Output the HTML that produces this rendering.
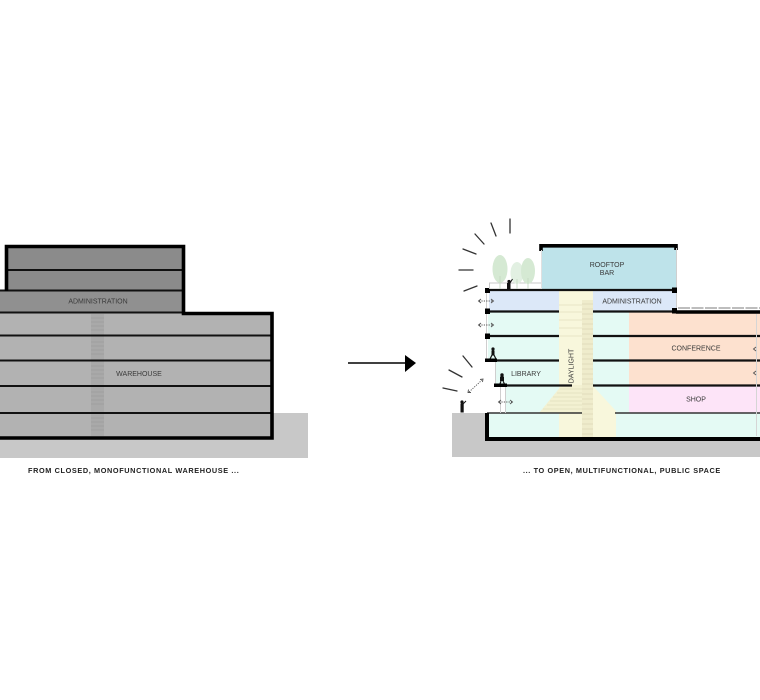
<!DOCTYPE html>
<html><head><meta charset="utf-8"><style>
html,body{margin:0;padding:0;background:#fff;}
svg{display:block;}
text{font-family:"Liberation Sans",sans-serif;}
</style></head><body>
<svg width="760" height="700" viewBox="0 0 760 700" xmlns="http://www.w3.org/2000/svg">
<rect width="760" height="700" fill="#fff"/>

<!-- LEFT BUILDING -->
<rect x="0" y="413" width="308" height="45" fill="#c8c8c8"/>
<rect x="0" y="313" width="272" height="125" fill="#b2b2b2"/>
<rect x="6" y="246" width="178" height="45" fill="#8b8b8b"/>
<rect x="0" y="290" width="184" height="23" fill="#909090"/>
<rect x="91" y="314" width="13" height="122" fill="#a9a9a9"/>
<g stroke="#999" stroke-width="0.6">
<line x1="91" y1="318" x2="104" y2="318"/><line x1="91" y1="322" x2="104" y2="322"/><line x1="91" y1="326" x2="104" y2="326"/><line x1="91" y1="330" x2="104" y2="330"/>
<line x1="91" y1="342" x2="104" y2="342"/><line x1="91" y1="346" x2="104" y2="346"/><line x1="91" y1="350" x2="104" y2="350"/><line x1="91" y1="354" x2="104" y2="354"/>
<line x1="91" y1="366" x2="104" y2="366"/><line x1="91" y1="370" x2="104" y2="370"/><line x1="91" y1="374" x2="104" y2="374"/><line x1="91" y1="378" x2="104" y2="378"/>
<line x1="91" y1="392" x2="104" y2="392"/><line x1="91" y1="396" x2="104" y2="396"/><line x1="91" y1="400" x2="104" y2="400"/><line x1="91" y1="404" x2="104" y2="404"/>
<line x1="91" y1="418" x2="104" y2="418"/><line x1="91" y1="422" x2="104" y2="422"/><line x1="91" y1="426" x2="104" y2="426"/><line x1="91" y1="430" x2="104" y2="430"/>
</g>
<g stroke="#111" stroke-width="2">
<line x1="7" y1="270" x2="183" y2="270"/>
<line x1="0" y1="290.5" x2="183" y2="290.5"/>
<line x1="0" y1="312.5" x2="183" y2="312.5"/>
<line x1="0" y1="335.5" x2="271" y2="335.5"/>
<line x1="0" y1="360.5" x2="271" y2="360.5"/>
<line x1="0" y1="386" x2="271" y2="386"/>
<line x1="0" y1="413" x2="271" y2="413"/>
</g>
<path d="M6.5 291 V246.5 H183.5 V313.5 H272 V438 H0" fill="none" stroke="#000" stroke-width="3.6"/>
<text x="98" y="303.5" font-size="7" fill="#3a3a3a" text-anchor="middle">ADMINISTRATION</text>
<text x="139" y="376" font-size="7" fill="#3a3a3a" text-anchor="middle">WAREHOUSE</text>
<text x="28" y="473" font-size="7.3" font-weight="bold" fill="#222" letter-spacing="0.62">FROM CLOSED, MONOFUNCTIONAL WAREHOUSE ...</text>

<!-- ARROW -->
<line x1="348" y1="363" x2="406" y2="363" stroke="#000" stroke-width="1.6"/>
<polygon points="405,355 416,363 405,372" fill="#000"/>

<!-- RIGHT BUILDING -->
<rect x="452" y="413" width="308" height="44" fill="#c8c8c8"/>
<!-- basement -->
<rect x="487" y="413" width="273" height="25" fill="#e4faf4"/>
<!-- ground floor -->
<rect x="505" y="386" width="124" height="27" fill="#e4faf4"/>
<rect x="629" y="386" width="131" height="27" fill="#fde4f8"/>
<!-- library floor -->
<rect x="495" y="361" width="134" height="25" fill="#e4faf4"/>
<rect x="629" y="312" width="131" height="74" fill="#fde1cf"/>
<rect x="488" y="312" width="141" height="49" fill="#e4faf4"/>
<!-- admin -->
<rect x="489" y="291" width="187" height="21" fill="#dce8f8"/>
<!-- rooftop bar -->
<rect x="541" y="247" width="135" height="43" fill="#bee3ea"/>

<!-- daylight column -->
<rect x="559" y="291" width="34" height="147" fill="#f8f7dc"/>
<polygon points="562,385 582,385 582,413 539,413" fill="#f3f1d2"/>
<polygon points="593,386 616,411 616,437 593,437" fill="#f8f7dc"/>
<rect x="582" y="300" width="11" height="137" fill="#efeccc"/>
<g stroke="#d8d4b0" stroke-width="0.6">
<line x1="582" y1="304" x2="593" y2="304"/><line x1="582" y1="309" x2="593" y2="309"/><line x1="582" y1="314" x2="593" y2="314"/><line x1="582" y1="319" x2="593" y2="319"/><line x1="582" y1="324" x2="593" y2="324"/><line x1="582" y1="329" x2="593" y2="329"/><line x1="582" y1="334" x2="593" y2="334"/><line x1="582" y1="339" x2="593" y2="339"/><line x1="582" y1="344" x2="593" y2="344"/><line x1="582" y1="349" x2="593" y2="349"/><line x1="582" y1="354" x2="593" y2="354"/><line x1="582" y1="359" x2="593" y2="359"/><line x1="582" y1="364" x2="593" y2="364"/><line x1="582" y1="369" x2="593" y2="369"/><line x1="582" y1="374" x2="593" y2="374"/><line x1="582" y1="379" x2="593" y2="379"/><line x1="582" y1="384" x2="593" y2="384"/><line x1="582" y1="389" x2="593" y2="389"/><line x1="582" y1="394" x2="593" y2="394"/><line x1="582" y1="399" x2="593" y2="399"/><line x1="582" y1="404" x2="593" y2="404"/><line x1="582" y1="409" x2="593" y2="409"/><line x1="582" y1="414" x2="593" y2="414"/><line x1="582" y1="419" x2="593" y2="419"/><line x1="582" y1="424" x2="593" y2="424"/><line x1="582" y1="429" x2="593" y2="429"/><line x1="582" y1="434" x2="593" y2="434"/>
<line x1="559" y1="305" x2="582" y2="305"/><line x1="559" y1="312" x2="582" y2="312"/><line x1="559" y1="320" x2="582" y2="320"/><line x1="559" y1="328" x2="582" y2="328"/><line x1="559" y1="336" x2="582" y2="336"/>
<line x1="560" y1="389" x2="582" y2="389"/><line x1="557" y1="393" x2="582" y2="393"/><line x1="553" y1="397" x2="582" y2="397"/><line x1="550" y1="401" x2="582" y2="401"/><line x1="547" y1="405" x2="582" y2="405"/><line x1="543" y1="409" x2="582" y2="409"/>
</g>

<!-- floor lines -->
<g stroke="#111" stroke-width="2.2">
<line x1="486" y1="290" x2="676" y2="290"/>
<line x1="486" y1="311.5" x2="559" y2="311.5"/>
<line x1="593" y1="311.5" x2="676" y2="311.5"/>
<line x1="486" y1="336" x2="559" y2="336"/>
<line x1="593" y1="336" x2="760" y2="336"/>
<line x1="486" y1="360.5" x2="559" y2="360.5"/>
<line x1="593" y1="360.5" x2="760" y2="360.5"/>
<line x1="494" y1="385.5" x2="572" y2="385.5"/>
<line x1="593" y1="385.5" x2="760" y2="385.5"/>
</g>
<line x1="487" y1="413" x2="582" y2="413" stroke="#333" stroke-width="1.4"/>
<line x1="615" y1="413" x2="760" y2="413" stroke="#333" stroke-width="1.6"/>
<line x1="676" y1="312" x2="760" y2="312" stroke="#000" stroke-width="3.4"/>
<!-- railing lower roof -->
<line x1="678" y1="308" x2="760" y2="308" stroke="#bdbdbd" stroke-width="2" stroke-dasharray="12,1.5"/>
<!-- rooftop box -->
<path d="M541 251 V245.8 H676 V250" fill="none" stroke="#000" stroke-width="3.6"/>
<line x1="676.5" y1="248" x2="676.5" y2="310" stroke="#cfcfcf" stroke-width="1"/>
<line x1="541.5" y1="250" x2="541.5" y2="289" stroke="#e0e0e0" stroke-width="1"/>
<!-- basement border -->
<path d="M487 413 V439 H760" fill="none" stroke="#000" stroke-width="4"/>
<!-- facade thin lines -->
<g stroke="#cfcfcf" stroke-width="1">
<line x1="486.5" y1="293" x2="486.5" y2="359"/>
<line x1="495.5" y1="362" x2="495.5" y2="384"/>
<line x1="500.5" y1="387" x2="500.5" y2="413"/>
<line x1="505.5" y1="387" x2="505.5" y2="413"/>
</g>
<line x1="756.5" y1="314" x2="756.5" y2="436" stroke="#d5d5d5" stroke-width="1"/>
<!-- column caps -->
<g fill="#000">
<rect x="485" y="288" width="5" height="5"/>
<rect x="485" y="308.5" width="5" height="5.5"/>
<rect x="485" y="333.5" width="5" height="5.5"/>
<rect x="485" y="358.5" width="12" height="3.5"/>
<rect x="494" y="383.5" width="13" height="3.5"/>
<rect x="672" y="287.5" width="5" height="5.5"/>
<rect x="672" y="308" width="5" height="5.5"/>
</g>

<!-- roof terrace: railing, trees -->
<line x1="489" y1="283" x2="541" y2="283" stroke="#c8c8c8" stroke-width="1"/>
<line x1="489.5" y1="283" x2="489.5" y2="289" stroke="#c8c8c8" stroke-width="1"/>
<ellipse cx="517" cy="273" rx="6.5" ry="11" fill="#e2f0e2"/>
<ellipse cx="500" cy="269" rx="7.5" ry="14" fill="#d5e9d3"/>
<ellipse cx="528" cy="271" rx="7" ry="13" fill="#d5e9d3"/>
<g stroke="#c2d6c0" stroke-width="0.8">
<line x1="500" y1="276" x2="500" y2="289"/><line x1="517" y1="279" x2="517" y2="289"/><line x1="528" y1="278" x2="528" y2="289"/>
</g>

<!-- people -->
<g fill="#111">
<circle cx="509" cy="281.5" r="1.6"/><rect x="507" y="283" width="3.5" height="6.5"/><line x1="510" y1="283" x2="512.5" y2="279" stroke="#111" stroke-width="1"/>
<circle cx="493" cy="349" r="1.6"/><rect x="491.5" y="350.5" width="3" height="5"/><line x1="492" y1="355" x2="490" y2="359" stroke="#111" stroke-width="1.2"/><line x1="494" y1="355" x2="496" y2="359" stroke="#111" stroke-width="1.2"/>
<circle cx="502" cy="375" r="1.7"/><rect x="500" y="376.5" width="4" height="4.5"/><line x1="501" y1="381" x2="500" y2="384" stroke="#111" stroke-width="1.2"/><line x1="503" y1="381" x2="504.5" y2="384" stroke="#111" stroke-width="1.2"/>
<circle cx="462" cy="402" r="1.6"/><rect x="460.5" y="403.5" width="3.2" height="9"/><line x1="463" y1="404" x2="466" y2="401" stroke="#111" stroke-width="1"/>
</g>

<!-- dotted double arrows -->
<g stroke="#555" stroke-width="0.9" fill="none">
<line x1="479" y1="301" x2="493" y2="301" stroke-dasharray="1.2,1.2"/>
<path d="M481 299 L478.5 301 L481 303 M491 299 L493.5 301 L491 303"/>
<line x1="479" y1="325" x2="493" y2="325" stroke-dasharray="1.2,1.2"/>
<path d="M481 323 L478.5 325 L481 327 M491 323 L493.5 325 L491 327"/>
<line x1="499" y1="402" x2="512" y2="402" stroke-dasharray="1.2,1.2"/>
<path d="M501 400 L498.5 402 L501 404 M510 400 L512.5 402 L510 404"/>
<line x1="469" y1="392" x2="482" y2="380" stroke-dasharray="1.2,1.2"/>
<path d="M468.5 389.5 L468 392.5 L471 392.5 M480 379.5 L483 379 L482.5 382"/>
<path d="M756 347 L753.5 349 L756 351 M756 371 L753.5 373 L756 375"/>
</g>

<!-- sun rays -->
<g stroke="#333" stroke-width="1.3" stroke-linecap="round">
<line x1="510" y1="219" x2="510" y2="233"/>
<line x1="491" y1="223" x2="496" y2="236"/>
<line x1="475" y1="234" x2="484" y2="244"/>
<line x1="463" y1="249" x2="476" y2="254"/>
<line x1="459" y1="270" x2="473" y2="270"/>
<line x1="464" y1="291" x2="477" y2="286"/>
<line x1="463" y1="356" x2="472" y2="367"/>
<line x1="449" y1="370" x2="462" y2="377"/>
<line x1="443" y1="388" x2="457" y2="391"/>
</g>

<!-- labels -->
<g font-size="7" fill="#3a3a3a" text-anchor="middle">
<text x="607" y="267">ROOFTOP</text>
<text x="607" y="275">BAR</text>
<text x="632" y="303.5">ADMINISTRATION</text>
<text x="696" y="350.5">CONFERENCE</text>
<text x="526" y="376">LIBRARY</text>
<text x="696" y="401.5">SHOP</text>
<text transform="translate(573.5,366) rotate(-90)">DAYLIGHT</text>
</g>
<text x="523" y="473" font-size="7.3" font-weight="bold" fill="#222" letter-spacing="0.62">... TO OPEN, MULTIFUNCTIONAL, PUBLIC SPACE</text>
</svg>
</body></html>
